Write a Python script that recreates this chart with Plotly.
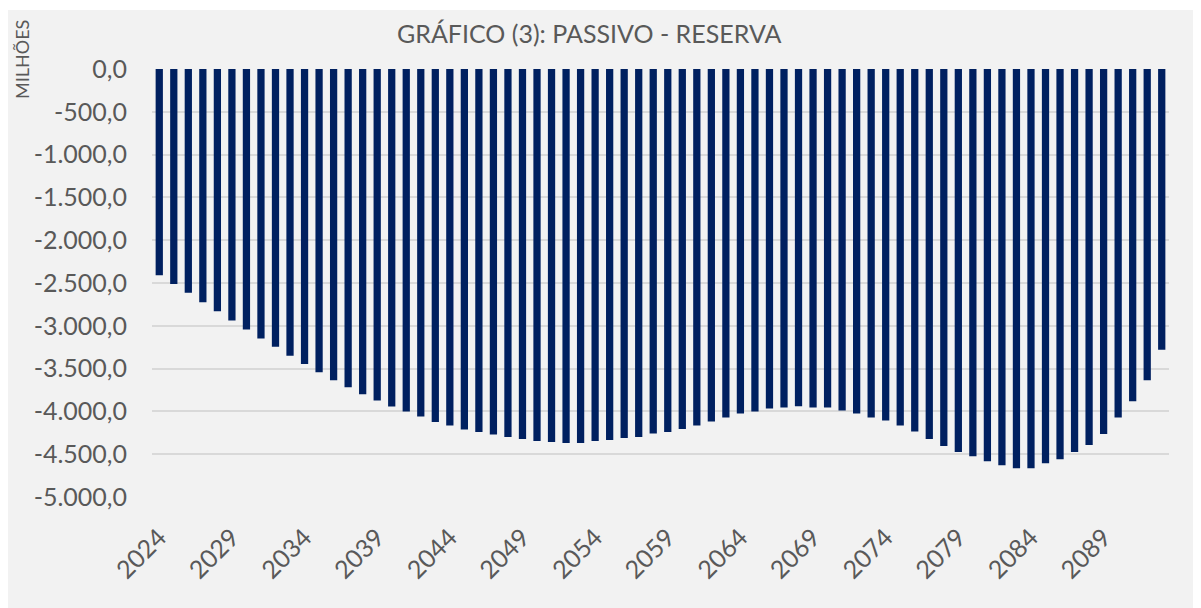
import plotly.graph_objects as go

years = list(range(2024, 2094))
values = [
    -2410, -2513, -2614, -2724, -2829, -2938, -3043, -3148, -3246, -3351,
    -3445, -3542, -3636, -3717, -3799, -3873, -3943, -4002, -4060, -4123,
    -4166, -4212, -4240, -4271, -4298, -4322, -4345, -4357, -4369, -4369,
    -4345, -4333, -4310, -4298, -4259, -4240, -4205, -4166, -4119, -4072,
    -4025, -4002, -3967, -3955, -3939, -3955, -3955, -3990, -4025, -4072,
    -4107, -4166, -4236, -4322, -4404, -4474, -4524, -4583, -4629, -4664,
    -4664, -4606, -4559, -4474, -4392, -4263, -4072, -3881, -3636, -3281,
]
tick_years = list(range(2024, 2094, 5))
y_ticks = [0, -500, -1000, -1500, -2000, -2500, -3000, -3500, -4000, -4500, -5000]
y_tick_text = ["0,0", "-500,0", "-1.000,0", "-1.500,0", "-2.000,0", "-2.500,0",
               "-3.000,0", "-3.500,0", "-4.000,0", "-4.500,0", "-5.000,0"]
title_text = "GRÁFICO (3): PASSIVO - RESERVA"
y_label = "MILHÕES"

# page body has an 8px margin; figure is drawn offset by it
OFF = 8
W, H = 1193, 600
L, R, T, B = 144, 32, 61, 111
pw = W - L - R
ph = H - T - B

def px(x_page):
    return (x_page - OFF - L) / pw

def py(y_page):
    return (H - B - (y_page - OFF)) / ph

fig = go.Figure()
fig.add_trace(go.Bar(
    x=[str(y) for y in years], y=values,
    marker=dict(color="#002060", line=dict(width=0)),
))

fig.add_shape(type="rect", xref="paper", yref="paper", layer="below",
              x0=px(6), x1=px(1199), y0=py(10), y1=py(620),
              fillcolor="#f2f2f2", line=dict(width=0))
fig.add_shape(type="line", xref="paper", yref="paper", layer="below",
              x0=px(1199.5), x1=px(1199.5), y0=py(10), y1=py(620),
              line=dict(color="#d0d0d0", width=1))

fig.add_annotation(text=title_text, xref="paper", yref="paper",
                   x=px(589), y=py(33), showarrow=False,
                   xanchor="center", yanchor="middle",
                   font=dict(family="Lato", size=25, color="#595959"))
fig.add_annotation(text=y_label, xref="paper", yref="paper",
                   x=px(22), y=py(60), showarrow=False, textangle=-90,
                   xanchor="center", yanchor="middle",
                   font=dict(family="Lato", size=18, color="#595959"))

fig.update_layout(
    width=W, height=H,
    margin=dict(l=L, r=R, t=T, b=B, pad=0, autoexpand=False),
    paper_bgcolor="white", plot_bgcolor="rgba(0,0,0,0)",
    bargap=0.5, showlegend=False,
    font=dict(family="Lato", size=25, color="#595959"),
)
fig.update_xaxes(
    type="category", tickmode="array",
    tickvals=[str(y) for y in tick_years], ticktext=[str(y) for y in tick_years],
    tickangle=-45, showgrid=False, showline=False, ticks="",
    automargin=False, ticklabelstandoff=20,
    tickfont=dict(family="Lato", size=25, color="#595959"),
)
fig.update_yaxes(
    range=[-5000, 0], tickmode="array", tickvals=y_ticks, ticktext=y_tick_text,
    showgrid=True, gridcolor="#d9d9d9", gridwidth=1.5, zeroline=False,
    showline=False, ticks="", automargin=False, ticklabelstandoff=24,
    tickfont=dict(family="Lato", size=25, color="#595959"),
)

fig.write_html("out.html")
